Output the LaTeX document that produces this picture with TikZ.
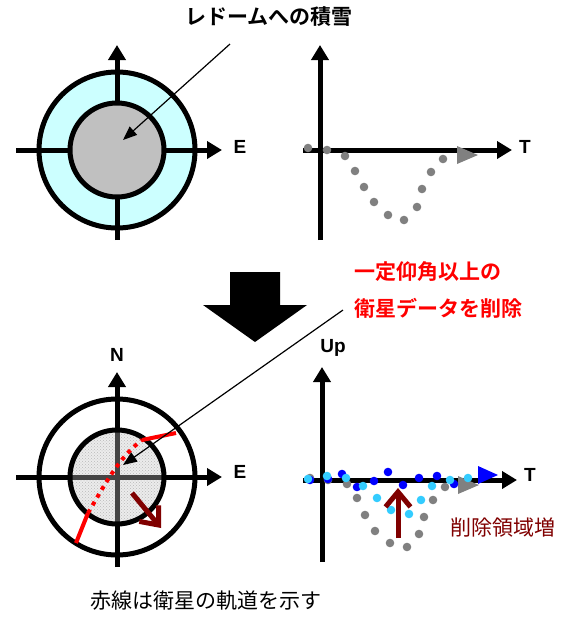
\documentclass[tikz,border=0pt]{standalone}
\usepackage{fontspec}
\setmainfont{Liberation Sans}
\newfontfamily\jp{Noto Sans CJK JP}[BoldFont={Noto Sans CJK JP Bold}]
\usetikzlibrary{arrows.meta, patterns}
\definecolor{ringcyan}{HTML}{CCFFFF}
\definecolor{domegray}{HTML}{C0C0C0}
\definecolor{satgray}{HTML}{808080}
\definecolor{satcyan}{HTML}{33CCFF}
\definecolor{satblue}{HTML}{0000FF}
\definecolor{lossred}{HTML}{800000}

\begin{document}
\begin{tikzpicture}[
  x=1pt, y=-1pt,
  axis/.style={line width=5pt, -{Triangle[length=15pt,width=17pt]}},
  ring/.style={line width=5pt},
  pointer/.style={line width=1.2pt, -{Triangle[length=14pt,width=11pt]}},
  orbit/.style={red, line width=4pt},
  growarr/.style={lossred, line width=5pt, -{Straight Barb[length=15pt,width=25pt,line width=5pt]}},
  axlabel/.style={font=\bfseries\fontsize{19}{21}\selectfont, inner sep=0pt},
  jplabel/.style={font=\jp\fontsize{21}{25}\selectfont, inner sep=0pt},
  jpbold/.style={font=\jp\bfseries\fontsize{21}{25}\selectfont, inner sep=0pt}
]
  \useasboundingbox (0,0) rectangle (563,619);

  % radome with snow
  \fill[ringcyan] (117,150) circle (78);
  \draw[axis] (117,240) -- (117,45);
  \draw[axis] (16,150) -- (222,150);
  \draw[ring] (117,150) circle (78);
  \draw[ring, fill=domegray] (117,150) circle (47);
  \node[axlabel] (e1) at (240,147) {E};
  \node[jpbold] (snow) at (269,17) {レドームへの積雪};
  \coordinate (snowtail) at (230,44);
  \coordinate (snowdome) at (123,140);
  \draw[pointer] (snowtail) -- (snowdome);

  % residuals before
  \draw[axis] (320,240) -- (320,45);
  \draw[axis] (303,150) -- (512,150);
  \node[axlabel] (t1) at (525,147) {T};
  \foreach \x/\y in {308/148, 327/150, 345/156, 355/171, 364/187, 374/202,
                     388/215, 404/220, 417/207, 422/189, 431/172, 443/159}
    \fill[satgray] (\x,\y) circle (4.3);
  \fill[satgray] (457,146) -- (478,155) -- (457,164) -- cycle;

  % big arrow
  \fill (230,272) -- (280,272) -- (280,305) -- (307,305) -- (255,342)
        -- (203,305) -- (230,305) -- cycle;
  \node[jpbold, text=red, anchor=west] (cut1) at (354,272) {一定仰角以上の};
  \node[jpbold, text=red, anchor=west] (cut2) at (354,308) {衛星データを削除};

  % radome after masking
  \fill[gray!12] (117,477) circle (47);
  \fill[pattern=crosshatch dots, pattern color=gray!70] (117,477) circle (47);
  \draw[axis] (117,567) -- (117,372);
  \draw[axis] (16,477) -- (222,477);
  \fill[gray!20, fill opacity=0.3] (117,477) circle (47);
  \draw[ring] (117,477) circle (78);
  \draw[ring] (117,477) circle (47);
  \node[axlabel] (n2) at (117,355) {N};
  \node[axlabel] (e2) at (240,472) {E};
  \coordinate (orbitA) at (76,543);
  \coordinate (orbitB) at (88,513);
  \coordinate (orbitC) at (142,440);
  \coordinate (orbitD) at (176,433);
  \draw[orbit] (orbitA) -- (orbitB);
  \draw[orbit, dash pattern=on 4pt off 5pt]
    (orbitB) .. controls (103,488) and (118,458) .. (orbitC);
  \draw[orbit] (orbitC) -- (orbitD);
  \coordinate (driftA) at (132,493);
  \coordinate (driftB) at (161,528);
  \draw[growarr] (driftA) -- (driftB);
  \coordinate (cuttail) at (343,310);
  \coordinate (cutdome) at (123,465);
  \draw[pointer] (cuttail) -- (cutdome);

  % residuals after
  \draw[axis] (322,562) -- (322,367);
  \draw[axis] (303,480) -- (517,480);
  \node[axlabel] (up2) at (333,348) {Up};
  \node[axlabel] (t2) at (530,475) {T};
  \foreach \x/\y in {310/478, 328/480, 347/484, 357/498, 365/515, 375/531,
                     390/543, 407/547, 419/534, 424/517, 433/500, 445/487}
    \fill[satgray] (\x,\y) circle (4.3);
  \fill[satgray] (458,476) -- (479,485) -- (458,494) -- cycle;
  \foreach \x/\y in {310/480, 328/479, 342/474, 357/487, 374/481, 388/472,
                     403/485, 419/478, 437/476, 454/484}
    \fill[satblue] (\x,\y) circle (4.3);
  \foreach \x/\y in {308/479, 327/476, 346/478, 363/486, 377/498, 391/510,
                     409/514, 421/500, 432/486, 450/480, 468/478}
    \fill[satcyan] (\x,\y) circle (4.3);
  \fill[satblue] (478,466) -- (498,475) -- (478,484) -- cycle;
  \coordinate (gainA) at (398,538);
  \coordinate (gainB) at (398,488);
  \draw[growarr] (gainA) -- (gainB);
  \node[jplabel, text=lossred] (gain) at (503,528) {削除領域増};

  \node[jplabel] (note) at (206,601) {赤線は衛星の軌道を示す};
\end{tikzpicture}
\end{document}
